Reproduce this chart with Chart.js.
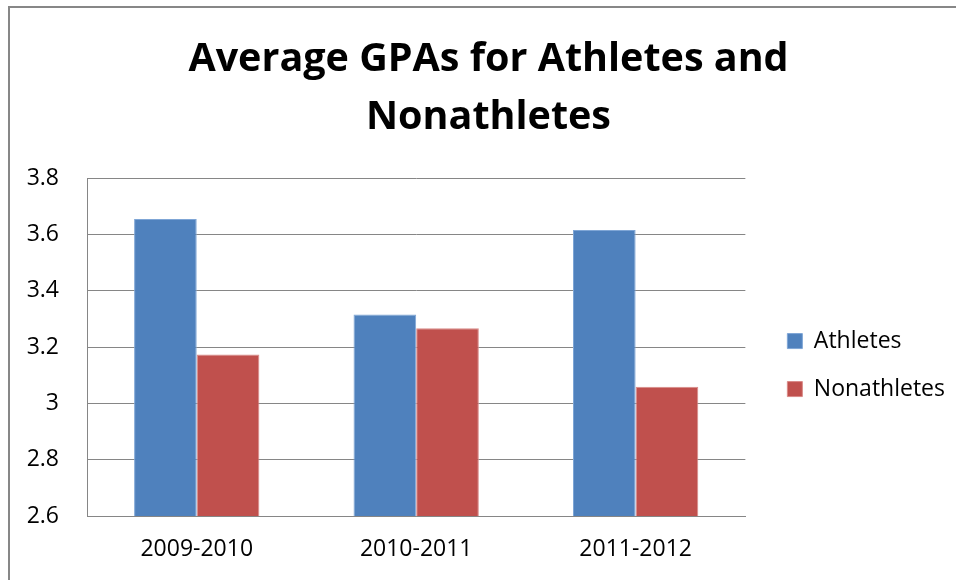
<!DOCTYPE html>
<html>
<head>
<meta charset="utf-8">
<script src="https://cdn.jsdelivr.net/npm/chart.js@4/dist/chart.umd.min.js"></script>
<style>
    html, body { margin: 0; padding: 0; background: #fff; overflow: hidden; }
    #frame {
        position: absolute; left: 8px; top: 6px; width: 948px; height: 574px;
        border-left: 2px solid #878787; border-top: 2px solid #878787;
    }
    #wrap { position: absolute; left: 0; top: 0; width: 946px; height: 572px; }
</style>
</head>
<body>
<div id="frame"><div id="wrap"><canvas id="gpaChart"></canvas></div></div>
<script>
// Data
const seasons = ['2009-2010', '2010-2011', '2011-2012'];
const athletes = [3.655, 3.316, 3.616];
const nonathletes = [3.174, 3.267, 3.059];
const seriesNames = ['Athletes', 'Nonathletes'];

const colors = {
    athletes: '#4F81BD',
    nonathletes: '#C0504D',
    grid: '#868686'
};

const font = 'Open Sans';

function drawChart() {
    new Chart(document.getElementById('gpaChart'), {
        type: 'bar',
        data: {
            labels: seasons,
            datasets: [
                {
                    label: seriesNames[0],
                    data: athletes,
                    backgroundColor: colors.athletes,
                    borderColor: '#7fa6d6',
                    borderWidth: 1,
                    categoryPercentage: 0.571,
                    barPercentage: 1.0,
                    yAxisID: 'y'
                },
                {
                    label: seriesNames[1],
                    data: nonathletes,
                    backgroundColor: colors.nonathletes,
                    borderColor: '#d98a88',
                    borderWidth: 1,
                    categoryPercentage: 0.571,
                    barPercentage: 1.0,
                    yAxisID: 'y'
                }
            ]
        },
        options: {
            responsive: true,
            maintainAspectRatio: false,
            animation: false,
            layout: { padding: { left: 12, right: 1 } },
            plugins: {
                title: {
                    display: true,
                    text: ['Average GPAs for Athletes and', 'Nonathletes'],
                    color: '#000',
                    font: { family: font, size: 39.5, weight: 'bold', lineHeight: 1.47 },
                    padding: { top: 23, bottom: 31 }
                },
                legend: {
                    position: 'right',
                    align: 'center',
                    fullSize: false,
                    maxWidth: 320,
                    // empty title only pushes the items down a bit
                    title: { display: true, text: '', font: { size: 10 }, padding: { top: 24, bottom: 0 } },
                    labels: {
                        color: '#000',
                        boxWidth: 15,
                        boxHeight: 15,
                        padding: 25,
                        font: { family: font, size: 23 }
                    }
                },
                tooltip: { enabled: false }
            },
            scales: {
                x: {
                    grid: { display: false, drawTicks: false },
                    border: { display: true, color: colors.grid, width: 1 },
                    ticks: {
                        color: '#000',
                        padding: 20,
                        font: { family: font, size: 23 }
                    },
                    afterFit: function (scale) { scale.height = 64; }
                },
                y: {
                    min: 2.6,
                    max: 3.8,
                    ticks: {
                        stepSize: 0.2,
                        color: '#000',
                        padding: 28,
                        font: { family: font, size: 23 },
                        callback: function (v) { return Number(v.toFixed(1)).toString(); }
                    },
                    grid: { color: colors.grid, lineWidth: 1, drawTicks: false },
                    border: { display: true, color: colors.grid, width: 1 },
                    afterFit: function (scale) { scale.width = 65; }
                },
                // spacer between plot area and legend
                gap: {
                    type: 'linear',
                    position: 'right',
                    display: true,
                    grid: { display: false, drawTicks: false },
                    border: { display: false },
                    ticks: { display: false },
                    afterFit: function (scale) { scale.width = 17; }
                }
            }
        }
    });
}

Promise.all([
    document.fonts.load('23px "Open Sans"'),
    document.fonts.load('bold 39px "Open Sans"')
]).then(drawChart, drawChart);
</script>
</body>
</html>
